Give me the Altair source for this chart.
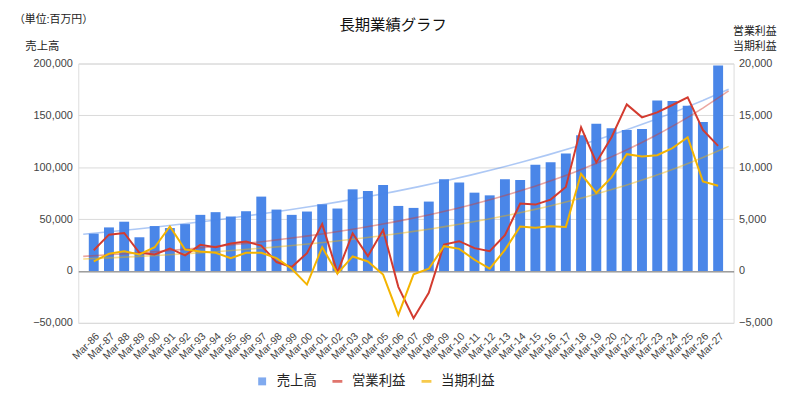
import altair as alt
import pandas as pd

labels = ["Mar-86", "Mar-87", "Mar-88", "Mar-89", "Mar-90", "Mar-91", "Mar-92", "Mar-93",
          "Mar-94", "Mar-95", "Mar-96", "Mar-97", "Mar-98", "Mar-99", "Mar-00", "Mar-01",
          "Mar-02", "Mar-03", "Mar-04", "Mar-05", "Mar-06", "Mar-07", "Mar-08", "Mar-09",
          "Mar-10", "Mar-11", "Mar-12", "Mar-13", "Mar-14", "Mar-15", "Mar-16", "Mar-17",
          "Mar-18", "Mar-19", "Mar-20", "Mar-21", "Mar-22", "Mar-23", "Mar-24", "Mar-25",
          "Mar-26", "Mar-27"]
sales = [36000, 42000, 47500, 32500, 43300, 41400, 45200, 54100, 56700, 52500, 57600, 71700,
         59200, 54100, 57300, 64300, 60200, 78700, 77100, 82800, 62700, 60800, 66900, 88500,
         85400, 75500, 72900, 88500, 87600, 102400, 104900, 113200, 130800, 142000, 137600,
         136000, 136900, 164400, 163800, 159300, 143600, 198000]
op_profit = [2000, 3500, 3660, 1750, 1600, 2170, 1500, 2520, 2290, 2640, 2830, 2450, 860, 380,
             1720, 4520, -160, 3630, 1430, 3950, -1530, -4550, -2100, 2550, 2870, 2200, 1910,
             3440, 6500, 6400, 6880, 8090, 13850, 10460, 12890, 16060, 14810, 15290, 16000,
             16730, 13600, 12060]
net_profit = [920, 1660, 1910, 1590, 2290, 4300, 2070, 1880, 1750, 1240, 1750, 1750, 1240, 220,
              -1310, 2290, -250, 1400, 920, -350, -4240, -320, 220, 2390, 2130, 1080, 220,
              2040, 4280, 4160, 4320, 4250, 9370, 7520, 9020, 11260, 11040, 11160, 11840,
              12890, 8640, 8220]
series_names = ["売上高", "営業利益", "当期利益"]
series_colors = ["#4A86E8", "#D33B2F", "#F4B400"]
left_ticks = [-50000, 0, 50000, 100000, 150000, 200000]
right_ticks = [-5000, 0, 5000, 10000, 15000, 20000]
chart_title = "長期業績グラフ"
unit_text = "（単位:百万円）"
left_title = "売上高"
right_title = ["営業利益", "当期利益"]

FONT = "Liberation Sans, Arial, Noto Sans CJK JP, sans-serif"
X_DOMAIN = [-0.69, 41.69]

df = pd.DataFrame({
    "idx": list(range(len(labels))),
    "label": labels,
    "sales": sales,
    "op": op_profit,
    "net": net_profit,
})

label_expr = "[" + ",".join("'" + l + "'" for l in labels) + "][datum.value]"

x_enc = alt.X(
    "idx:Q",
    scale=alt.Scale(domain=X_DOMAIN, nice=False, zero=False),
    axis=alt.Axis(
        values=list(range(len(labels))), labelExpr=label_expr, labelAngle=-45,
        labelAlign="right", labelBaseline="top", ticks=False, domain=False, grid=False,
        labelFontSize=10.5, labelColor="#444444", labelPadding=8, title=None,
        labelOverlap=False, labelFont=FONT,
    ),
)

left_axis = alt.Axis(
    values=left_ticks, format=",.0f", orient="left", ticks=False, domain=False,
    gridColor={"condition": {"test": "datum.value === 0", "value": "#666666"}, "value": "#DADADA"},
    labelFontSize=11, labelColor="#444444", labelPadding=6, labelFont=FONT,
    title=left_title, titleAngle=0, titleAlign="left", titleBaseline="alphabetic",
    titleX=-54, titleY=-14, titleFontSize=11.5, titleFontWeight="normal",
    titleColor="#222222", titleFont=FONT,
)
left_scale = alt.Scale(domain=[-50000, 200000], nice=False)

right_axis = alt.Axis(
    values=right_ticks, format=",.0f", orient="right", ticks=False, domain=False, grid=False,
    labelFontSize=11, labelColor="#444444", labelPadding=5, labelFont=FONT,
    title=right_title, titleAngle=0, titleAlign="left", titleBaseline="alphabetic",
    titleX=-1, titleY=-29, titleFontSize=11, titleFontWeight="normal",
    titleColor="#222222", titleFont=FONT, titleLineHeight=15,
)
right_scale = alt.Scale(domain=[-5000, 20000], nice=False)

base = alt.Chart(df)

bars = base.mark_bar(color=series_colors[0], size=10).encode(
    x=x_enc, y=alt.Y("sales:Q", scale=left_scale, axis=left_axis)
)
sales_trend = base.transform_regression(
    "idx", "sales", method="exp", extent=X_DOMAIN
).mark_line(color=series_colors[0], opacity=0.45, strokeWidth=1.6).encode(
    x=x_enc, y=alt.Y("sales:Q", scale=left_scale, axis=left_axis)
)
unit = alt.Chart(pd.DataFrame({"t": [unit_text]})).mark_text(
    align="left", baseline="middle", fontSize=11, color="#222222", font=FONT
).encode(x=alt.value(-65), y=alt.value(-44), text="t:N")
title_mark = alt.Chart(pd.DataFrame({"t": [chart_title]})).mark_text(
    align="center", baseline="middle", fontSize=15.5, color="#111111", font=FONT
).encode(x=alt.value(318), y=alt.value(-39), text="t:N")

left = alt.layer(bars, sales_trend, unit, title_mark)


def profit_line(field, color):
    return base.mark_line(color=color, strokeWidth=2).encode(
        x=x_enc, y=alt.Y(field + ":Q", scale=right_scale, axis=right_axis)
    )


def profit_trend(field, color):
    return base.transform_filter("datum." + field + " > 0").transform_regression(
        "idx", field, method="exp", extent=X_DOMAIN
    ).mark_line(color=color, opacity=0.45, strokeWidth=1.6).encode(
        x=x_enc, y=alt.Y(field + ":Q", scale=right_scale, axis=right_axis)
    )


legend = alt.Legend(
    orient="none", legendX=179, legendY=314, direction="horizontal", columns=3,
    title=None, symbolSize=64, labelFontSize=13.5, labelColor="#222222",
    labelOffset=8, columnPadding=14, symbolStrokeWidth=0, labelFont=FONT,
)
legend_df = pd.DataFrame({"series": series_names})
legend_layer = alt.Chart(legend_df).transform_filter("false").mark_point(filled=True).encode(
    color=alt.Color("series:N", scale=alt.Scale(domain=series_names, range=series_colors),
                    legend=legend),
    shape=alt.Shape("series:N", scale=alt.Scale(
        domain=series_names,
        range=["square", "M-1.25,-0.35H1.25V0.35H-1.25Z", "M-1.25,-0.35H1.25V0.35H-1.25Z"]),
        legend=legend),
)

right = alt.layer(
    profit_trend("op", series_colors[1]),
    profit_trend("net", series_colors[2]),
    profit_line("op", series_colors[1]),
    profit_line("net", series_colors[2]),
    legend_layer,
)

chart = alt.layer(left, right).resolve_scale(y="independent").properties(
    width=662, height=262,
    padding={"left": 71, "top": 54, "right": 59, "bottom": 89},
    autosize=alt.AutoSizeParams(type="none"),
).configure_view(stroke=None).configure(font=FONT)

chart.save("out.html", embed_options={"renderer": "svg", "actions": False})
